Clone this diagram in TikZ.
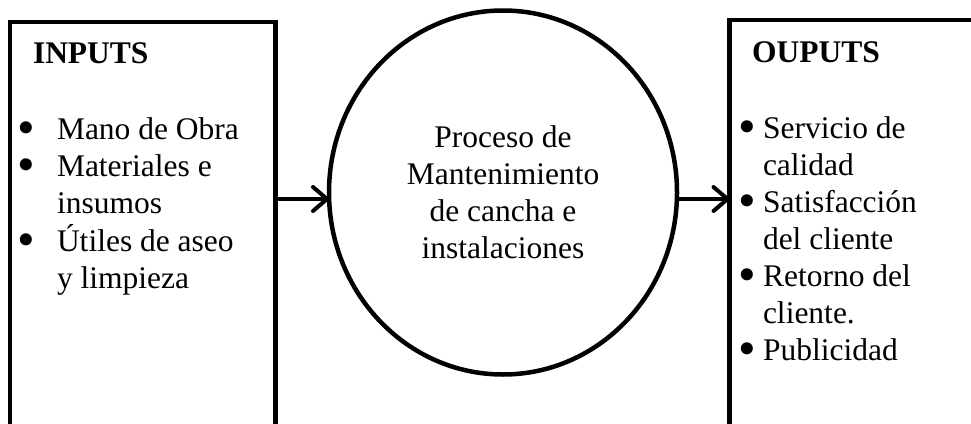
\documentclass[tikz,border=0pt]{standalone}
\usepackage{fontspec}
\usepackage{graphicx}
\setmainfont{Liberation Serif}
\usetikzlibrary{shapes.geometric,arrows.meta}
\newcommand{\bul}[1]{\makebox[#1][l]{\raisebox{-5pt}[0pt][0pt]{\scalebox{1.6}{\textbullet}}}}
\begin{document}
\begin{tikzpicture}[x=1pt,y=-1pt,
  box/.style={draw, line width=4.5pt, minimum width=#1, minimum height=460pt, anchor=north west, inner sep=0pt, outer sep=0pt},
  txt/.style={inner sep=0pt, outer sep=0pt, anchor=base west, font=\fontsize{31.5}{37}\selectfont},
  head/.style={txt, font=\fontsize{31.5}{37}\selectfont\bfseries},
  flow/.style={line width=4pt, -{Straight Barb[length=14pt,width=24pt,round]}}]
\path[use as bounding box, fill=white] (0,0) rectangle (971,423);
\clip (0,0) rectangle (971,423);
\node[box=265.5pt] (inputs) at (10,22) {};
\node[box=300pt] (outputs) at (729.5,20) {};
\node[draw, ellipse, line width=4.5pt, minimum width=348pt, minimum height=364pt, inner sep=0pt, outer sep=0pt, align=center, font=\fontsize{31.5}{37}\selectfont] (proceso) at (503,192.5) {Proceso de\\ Mantenimiento\\ de cancha e\\ instalaciones};

\node[head] (inhead) at (33,63) {INPUTS};
\node[txt] (inlist) at (17,139) {\begin{tabular}[t]{@{}l@{}l@{}}
\bul{40pt} & Mano de Obra\\
\bul{40pt} & Materiales e\\
 & insumos\\
\bul{40pt} & Útiles de aseo\\
 & y limpieza
\end{tabular}};

\node[head] (outhead) at (752,62) {OUPUTS};
\node[txt] (outlist) at (738,138) {\begin{tabular}[t]{@{}l@{}l@{}}
\bul{25pt} & Servicio de\\
 & calidad\\
\bul{25pt} & Satisfacción\\
 & del cliente\\
\bul{25pt} & Retorno del\\
 & cliente.\\
\bul{25pt} & Publicidad
\end{tabular}};

\coordinate (inarrow) at ([yshift=-6.5pt]proceso.west);
\coordinate (outarrow) at ([yshift=-6.5pt]proceso.east);
\draw[flow] (inputs.east |- inarrow) -- (inarrow);
\draw[flow] (outarrow) -- (outputs.west |- outarrow);
\end{tikzpicture}
\end{document}
